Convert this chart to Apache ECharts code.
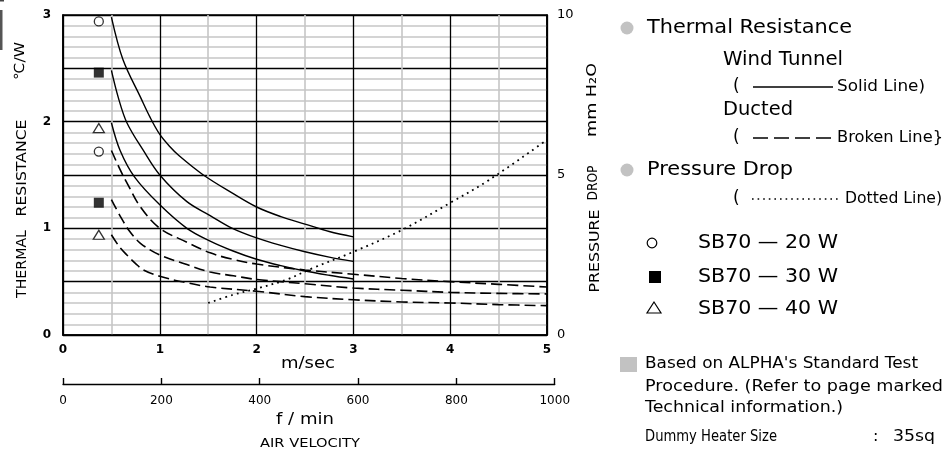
<!DOCTYPE html>
<html><head><meta charset="utf-8">
<script src="https://cdn.jsdelivr.net/npm/echarts@6/dist/echarts.min.js"></script>
<style>html,body{margin:0;padding:0;background:#fff}#c{width:946px;height:452px}</style>
</head><body><div id="c"></div>
<script>
// ---- data (air velocity m/s, thermal resistance °C/W, pressure drop mmH2O) ----
const xWT20 = [0.5,0.62,0.8,0.9,1.0,1.1,1.2,1.45,1.75,2.0,2.25,2.5,2.75,3.0];
const yWT20 = [2.98,2.58,2.23,2.04,1.88,1.77,1.68,1.5,1.33,1.2,1.11,1.04,0.97,0.92];
const xWT30 = [0.5,0.57,0.66,0.83,1.0,1.28,1.52,1.75,2.0,2.25,2.5,2.75,3.0];
const yWT30 = [2.48,2.23,1.99,1.73,1.5,1.25,1.12,1.0,0.91,0.84,0.78,0.73,0.69];
const xWT40 = [0.5,0.59,0.74,1.0,1.28,1.52,1.75,2.0,2.25,2.5,2.75,3.0];
const yWT40 = [1.99,1.73,1.48,1.22,1.0,0.88,0.79,0.71,0.65,0.6,0.56,0.525];
const xDU20 = [0.5,0.59,0.67,0.8,1.0,1.28,1.52,1.75,2.0,2.5,3.0,3.5,4.0,4.5,5.0];
const yDU20 = [1.73,1.55,1.41,1.2,1.0,0.87,0.77,0.71,0.665,0.61,0.57,0.53,0.5,0.475,0.45];
const xDU30 = [0.5,0.6,0.69,0.8,1.0,1.28,1.52,1.76,2.0,2.25,2.5,3.0,3.5,4.0,4.5,5.0];
const yDU30 = [1.27,1.1,0.97,0.86,0.75,0.66,0.59,0.555,0.52,0.5,0.48,0.44,0.42,0.40,0.39,0.385];
const xDU40 = [0.5,0.58,0.66,0.75,0.83,1.0,1.28,1.52,2.0,2.5,3.0,3.5,4.0,4.5,5.0];
const yDU40 = [0.94,0.83,0.75,0.67,0.61,0.55,0.49,0.45,0.41,0.36,0.33,0.31,0.30,0.285,0.275];
const xPD = [1.5,1.75,2.0,2.3,2.58,3.0,3.5,4.0,4.4,5.0];
const yPD = [1.0,1.25,1.45,1.72,2.09,2.6,3.28,4.13,4.84,6.1];
const markerX = 0.37;
const markerCircle = [2.94, 1.72];
const markerSquare = [2.46, 1.24];
const markerTriangle = [1.94, 0.94];
const fpmMax = 1000;             // f/min scale end
const fpmPerMps = 196.85;        // 1 m/s = 196.85 f/min
const legendModels = ['SB70 \u2014 20 W','SB70 \u2014 30 W','SB70 \u2014 40 W'];

const FONT = '"DejaVu Sans", "Liberation Sans", sans-serif';
const cvs = document.createElement('canvas').getContext('2d');
function txt(s, x, y, w, size, opt) {
  opt = opt || {};
  cvs.font = (opt.bold ? 'bold ' : '') + size + 'px ' + FONT;
  const m = cvs.measureText(s).width;
  const align = opt.align || (opt.rot ? 'center' : 'left');
  return {
    type: 'text', x: x, y: y, rotation: opt.rot || 0,
    scaleX: w ? w / m : 1, z: 100,
    style: { text: s, x: 0, y: 0, fontSize: size, fontFamily: FONT, fontWeight: opt.bold ? 'bold' : 'normal',
      fill: '#000', textAlign: align, textVerticalAlign: 'middle', align: align, verticalAlign: 'middle' }
  };
}
const pairs = (xs, ys) => xs.map((x, i) => [x, ys[i]]);

const chart = echarts.init(document.getElementById('c'), null, {renderer: 'canvas'});
const gridLeft = 63, gridTop = 15, gridW = 484, gridH = 320;

function lineSeries(xs, ys, type, yIdx) {
  return {
    type: 'line', xAxisIndex: 0, yAxisIndex: yIdx || 0, data: pairs(xs, ys),
    showSymbol: false, symbol: 'none', smooth: 0.35, silent: true,
    lineStyle: { color: '#000', width: type === 'dotted' ? 1.8 : (type === 'dashed' ? 1.6 : 1.4),
      type: type === 'solid' ? 'solid' : (type === 'dashed' ? [11, 5] : [1.8, 4.2]) },
    z: 5
  };
}

const option = {
  animation: false,
  backgroundColor: '#fff',
  grid: [
    { left: gridLeft, top: gridTop, width: gridW, height: gridH, show: true, borderColor: '#000', borderWidth: 1.6, containLabel: false },
    { left: gridLeft, top: 383, width: gridW * (fpmMax / fpmPerMps) / 5, height: 1, show: false }
  ],
  xAxis: [
    { type: 'value', gridIndex: 0, min: 0, max: 5, interval: 1,
      axisLine: { show: true, lineStyle: { color: '#000', width: 1.6 } }, axisTick: { show: false },
      axisLabel: { margin: 9, fontSize: 12, fontWeight: 'bold', fontFamily: FONT, color: '#000' },
      splitLine: { show: true, lineStyle: { color: '#000', width: 1.3 } },
      minorTick: { show: false, splitNumber: 2 },
      minorSplitLine: { show: true, lineStyle: { color: '#c6c6c6', width: 1.6 } } },
    { type: 'value', gridIndex: 1, min: 0, max: fpmMax, interval: 200, position: 'bottom',
      axisLine: { show: true, onZero: false, lineStyle: { color: '#000', width: 1.4 } },
      axisTick: { show: true, inside: true, length: 6, lineStyle: { color: '#000', width: 1.4 } },
      axisLabel: { margin: 11, fontSize: 12, fontFamily: FONT, color: '#000', formatter: v => String(v) },
      splitLine: { show: false } }
  ],
  yAxis: [
    { type: 'value', gridIndex: 0, min: 0, max: 3, interval: 0.5,
      axisLine: { show: true, lineStyle: { color: '#000', width: 1.6 } }, axisTick: { show: false },
      axisLabel: { margin: 12, fontSize: 12, fontWeight: 'bold', fontFamily: FONT, color: '#000',
        formatter: v => (Math.abs(v - Math.round(v)) < 1e-6 ? String(Math.round(v)) : '') },
      splitLine: { show: true, lineStyle: { color: '#000', width: 1.3 } },
      minorTick: { show: false, splitNumber: 5 },
      minorSplitLine: { show: true, lineStyle: { color: '#c6c6c6', width: 1.6 } } },
    { type: 'value', gridIndex: 0, min: 0, max: 10, interval: 5, position: 'right',
      axisLine: { show: true, lineStyle: { color: '#000', width: 1.6 } }, axisTick: { show: false },
      axisLabel: { margin: 10, fontSize: 13, fontFamily: FONT, color: '#000' },
      splitLine: { show: false } },
    { type: 'value', gridIndex: 1, show: false, min: 0, max: 1 }
  ],
  series: [
    lineSeries(xWT20, yWT20, 'solid'),
    lineSeries(xWT30, yWT30, 'solid'),
    lineSeries(xWT40, yWT40, 'solid'),
    lineSeries(xDU20, yDU20, 'dashed'),
    lineSeries(xDU30, yDU30, 'dashed'),
    lineSeries(xDU40, yDU40, 'dashed'),
    lineSeries(xPD, yPD, 'dotted', 1),
    { type: 'scatter', xAxisIndex: 0, yAxisIndex: 0, symbol: 'circle', symbolSize: 9, silent: true, z: 10,
      data: markerCircle.map(v => [markerX, v]), itemStyle: { color: '#fff', borderColor: '#000', borderWidth: 1.3 } },
    { type: 'scatter', xAxisIndex: 0, yAxisIndex: 0, symbol: 'rect', symbolSize: 10, silent: true, z: 10,
      data: markerSquare.map(v => [markerX, v]), itemStyle: { color: '#000' } },
    { type: 'scatter', xAxisIndex: 0, yAxisIndex: 0, symbol: 'triangle', symbolSize: [11, 9], silent: true, z: 10,
      data: markerTriangle.map(v => [markerX, v]), itemStyle: { color: '#fff', borderColor: '#000', borderWidth: 1.3 } }
  ],
  graphic: [
    // top-left frame remnant
    { type: 'rect', shape: { x: 0, y: 0, width: 4, height: 1.5 }, style: { fill: '#444' } },
    { type: 'rect', shape: { x: 0, y: 10, width: 2.5, height: 40 }, style: { fill: '#555' } },
    // axis titles
    txt('\u2103/W', 20, 61, 38, 14, { rot: Math.PI / 2 }),
    txt('RESISTANCE', 22, 168, 97, 14, { rot: Math.PI / 2 }),
    txt('THERMAL', 22, 264, 68, 14, { rot: Math.PI / 2 }),
    txt('mm H\u2082O', 592, 100, 74, 14, { rot: Math.PI / 2 }),
    txt('DROP', 593, 183, 35, 14, { rot: Math.PI / 2 }),
    txt('PRESSURE', 595, 251, 83, 14, { rot: Math.PI / 2 }),
    txt('m/sec', 308, 364, 54, 15, { align: 'center' }),
    txt('f / min', 305, 420, 58, 15, { align: 'center' }),
    txt('AIR VELOCITY', 310, 444, 100, 13, { align: 'center' }),
    // legend
    { type: 'circle', shape: { cx: 627, cy: 28, r: 6.5 }, style: { fill: '#c2c2c2' } },
    txt('Thermal Resistance', 647, 28, 205, 19),
    txt('Wind Tunnel', 723, 60, 120, 19),
    txt('(', 733, 87, 0, 17),
    { type: 'line', shape: { x1: 753, y1: 87, x2: 833, y2: 87 }, style: { stroke: '#000', lineWidth: 1.3 } },
    txt('Solid Line)', 837, 87, 88, 16),
    txt('Ducted', 723, 110, 70, 19),
    txt('(', 733, 138, 0, 17),
    { type: 'line', shape: { x1: 753, y1: 138, x2: 833, y2: 138 }, style: { stroke: '#000', lineWidth: 1.3, lineDash: [15, 6] } },
    txt('Broken Line}', 837, 138, 106, 16),
    { type: 'circle', shape: { cx: 627, cy: 170, r: 6.5 }, style: { fill: '#c2c2c2' } },
    txt('Pressure Drop', 647, 170, 146, 19),
    txt('(', 733, 199, 0, 17),
    { type: 'line', shape: { x1: 752, y1: 199, x2: 840, y2: 199 }, style: { stroke: '#000', lineWidth: 1.6, lineDash: [1.6, 4] } },
    txt('Dotted Line)', 845, 199, 97, 16),
    { type: 'circle', shape: { cx: 652, cy: 243, r: 4.8 }, style: { fill: '#fff', stroke: '#000', lineWidth: 1.2 } },
    { type: 'rect', shape: { x: 649, y: 271, width: 12, height: 12 }, style: { fill: '#000' } },
    { type: 'polygon', shape: { points: [[654, 302], [647, 313], [661, 313]] }, style: { fill: '#fff', stroke: '#000', lineWidth: 1.2 } },
    txt(legendModels[0], 698, 243, 140, 19),
    txt(legendModels[1], 698, 277, 140, 19),
    txt(legendModels[2], 698, 309, 140, 19),
    { type: 'rect', shape: { x: 620, y: 357, width: 17, height: 15 }, style: { fill: '#c2c2c2' } },
    txt("Based on ALPHA's Standard Test", 645, 364, 273, 16),
    txt('Procedure. (Refer to page marked', 645, 387, 298, 16),
    txt('Technical information.)', 645, 408, 198, 16),
    txt('Dummy Heater Size', 645, 437, 132, 16),
    txt(':', 873, 437, 0, 16),
    txt('35sq', 893, 437, 42, 16)
  ]
};
chart.setOption(option);
</script></body></html>
